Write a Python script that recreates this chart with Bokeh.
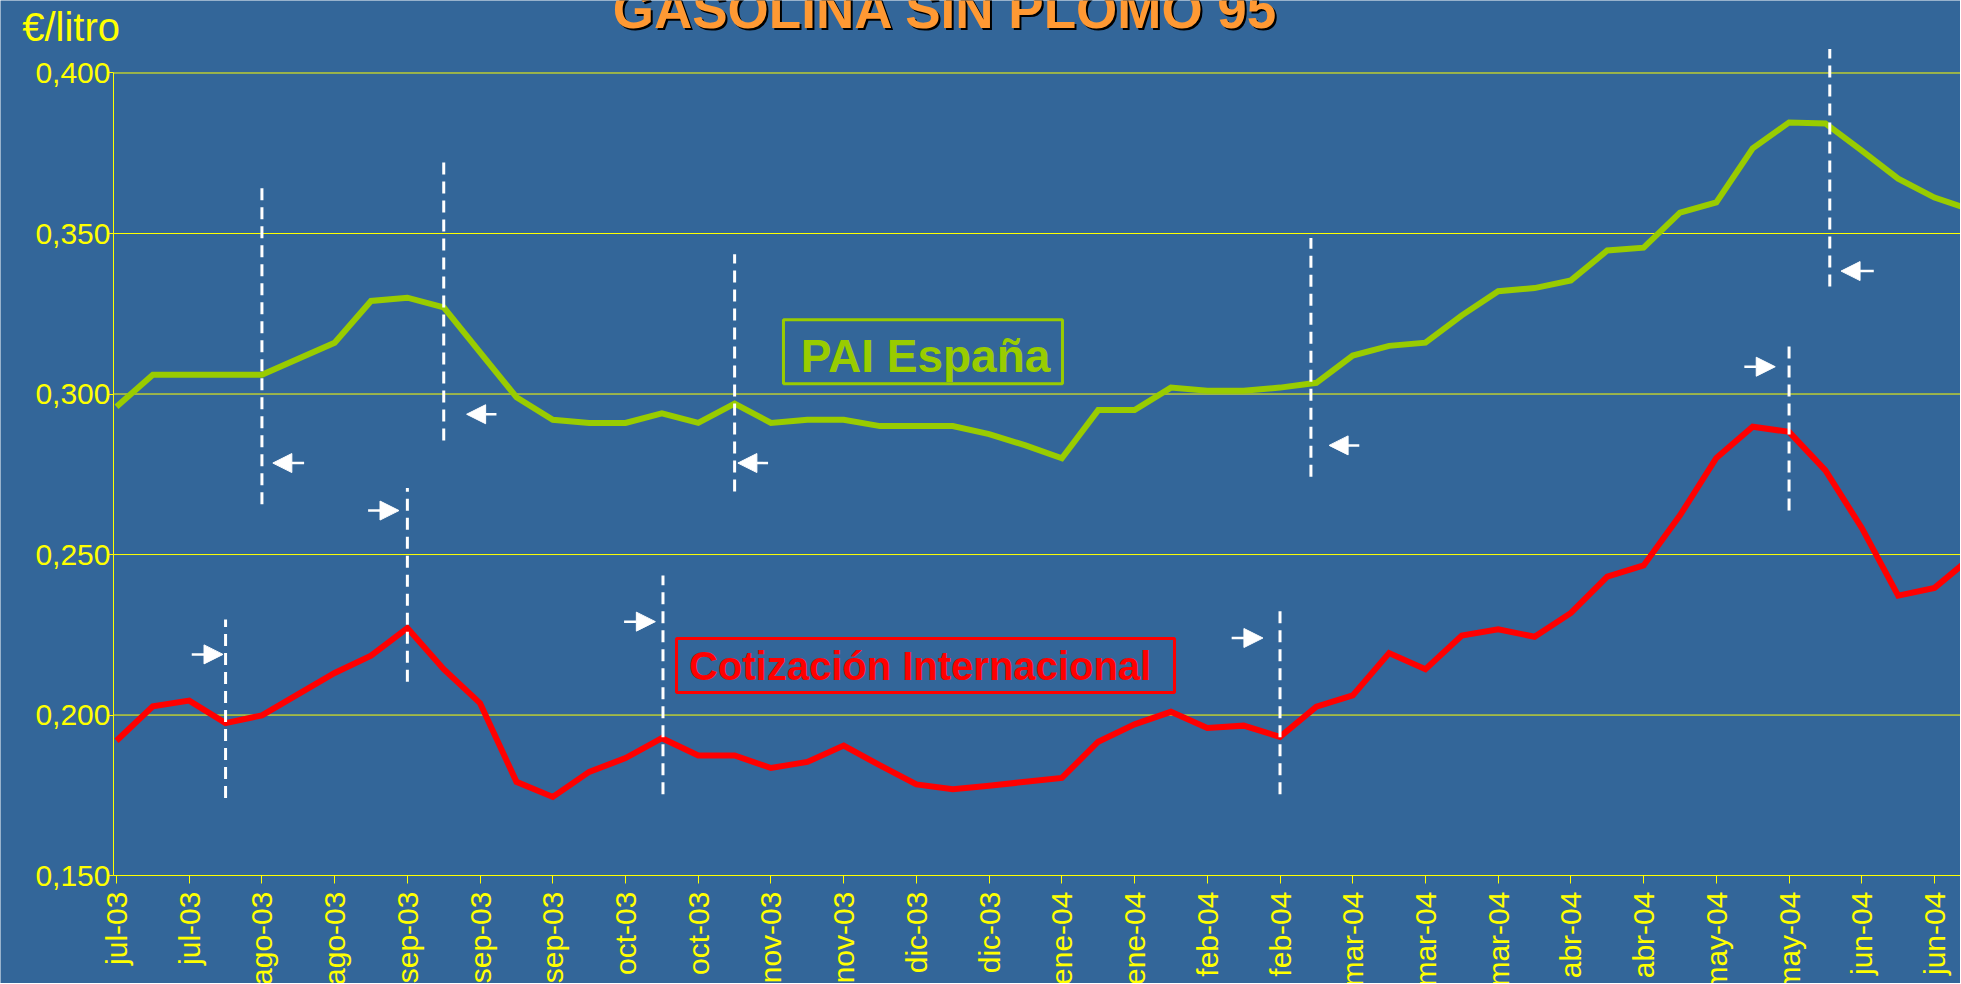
from bokeh.plotting import figure
from bokeh.models import FixedTicker, Arrow, NormalHead, Label, Range1d
from bokeh.core.properties import value
from bokeh.embed import file_html
from bokeh.resources import INLINE

# ---------------- data ----------------
x_tick_labels = ["jul-03", "jul-03", "ago-03", "ago-03", "sep-03", "sep-03", "sep-03",
                 "oct-03", "oct-03", "nov-03", "nov-03", "dic-03", "dic-03", "ene-04",
                 "ene-04", "feb-04", "feb-04", "mar-04", "mar-04", "mar-04", "abr-04",
                 "abr-04", "may-04", "may-04", "jun-04", "jun-04"]

# weekly values, euro / litre
pai_espana = [0.296, 0.306, 0.306, 0.306, 0.306, 0.311, 0.316, 0.329, 0.330, 0.327,
              0.313, 0.299, 0.292, 0.291, 0.291, 0.294, 0.291, 0.297, 0.291, 0.292,
              0.292, 0.290, 0.290, 0.290, 0.2875, 0.284, 0.280, 0.295, 0.295, 0.302,
              0.301, 0.301, 0.302, 0.3035, 0.312, 0.315, 0.316, 0.3245, 0.332, 0.333,
              0.3354, 0.3447, 0.3456, 0.3565, 0.3597, 0.3765, 0.3846, 0.3843, 0.3758,
              0.3671, 0.3612, 0.3574]

cotizacion_internacional = [0.192, 0.2027, 0.2045, 0.1975, 0.1999, 0.2065, 0.2131, 0.2185,
                            0.2271, 0.2143, 0.2037, 0.1792, 0.1745, 0.1823, 0.1866, 0.1928,
                            0.1874, 0.1874, 0.1835, 0.1854, 0.1905, 0.1843, 0.1784, 0.1769,
                            0.1780, 0.1792, 0.1804, 0.1917, 0.1971, 0.2010, 0.1960, 0.1967,
                            0.1932, 0.2026, 0.2061, 0.2193, 0.2143, 0.2248, 0.2267, 0.2244,
                            0.2318, 0.2431, 0.2466, 0.2622, 0.2801, 0.2898, 0.2882, 0.2762,
                            0.2583, 0.2372, 0.2396, 0.249]

weeks = list(range(len(pai_espana)))

y_ticks = [0.150, 0.200, 0.250, 0.300, 0.350, 0.400]
y_tick_labels = ["0,150", "0,200", "0,250", "0,300", "0,350", "0,400"]

# vertical dashed marker lines (week position, bottom, top) and short arrows (tail, head, level)
pai_marks_x = [4.0, 9.0, 17.0, 32.85, 47.12]
pai_marks_y0 = [0.2657, 0.2855, 0.2696, 0.2742, 0.3335]
pai_marks_y1 = [0.3642, 0.3735, 0.3435, 0.3486, 0.4075]
pai_arrow_tail = [5.16, 10.45, 17.92, 34.18, 48.33]
pai_arrow_head = [4.30, 9.63, 17.09, 33.35, 47.43]
pai_arrow_y = [0.2785, 0.2937, 0.2785, 0.2840, 0.3383]

cot_marks_x = [3.0, 8.0, 15.03, 32.0, 46.0]
cot_marks_y0 = [0.1742, 0.2104, 0.1753, 0.1753, 0.2637]
cot_marks_y1 = [0.2298, 0.2707, 0.2435, 0.2345, 0.3167]
cot_arrow_tail = [2.07, 6.92, 13.96, 30.67, 44.77]
cot_arrow_head = [2.93, 7.77, 14.82, 31.53, 45.62]
cot_arrow_y = [0.2189, 0.2637, 0.2291, 0.2240, 0.3085]

# ---------------- style ----------------
BG = "#336699"
YELLOW = "#FFFF00"
GREEN = "#99CC00"
RED = "#FF0000"
FONT = "Liberation Sans"

X_START, X_END = -3.190, 50.715      # frame covers the whole canvas
Y_START, Y_END = 0.11638, 0.42258
AXIS_X = -0.0825                     # where the value axis stands
AXIS_Y = y_ticks[0]                  # where the time axis stands

p = figure(width=1960, height=983, output_backend="svg", toolbar_location=None,
           x_range=Range1d(X_START, X_END), y_range=Range1d(Y_START, Y_END),
           min_border_left=0, min_border_top=0, min_border_right=0, min_border_bottom=0)
p.background_fill_color = BG
p.border_fill_color = BG
p.outline_line_color = None
p.xgrid.grid_line_color = None
p.ygrid.grid_line_color = None

# horizontal grid lines, starting at the value axis
p.segment(x0=[AXIS_X] * (len(y_ticks) - 1), y0=y_ticks[1:], x1=[X_END] * (len(y_ticks) - 1),
          y1=y_ticks[1:], line_color=YELLOW, line_width=1)

# y axis
p.yaxis.fixed_location = AXIS_X
p.yaxis.bounds = (y_ticks[0], y_ticks[-1])
p.yaxis.ticker = FixedTicker(ticks=y_ticks)
p.yaxis.major_label_overrides = {t: l for t, l in zip(y_ticks, y_tick_labels)}
p.yaxis.axis_line_color = YELLOW
p.yaxis.major_tick_line_color = YELLOW
p.yaxis.major_tick_in = 0
p.yaxis.major_tick_out = 5
p.yaxis.minor_tick_line_color = None
p.yaxis.major_label_standoff = -2
p.yaxis.major_label_text_color = YELLOW
p.yaxis.major_label_text_font = FONT
p.yaxis.major_label_text_font_size = "30px"

# x axis
x_tick_pos = [2 * i for i in range(len(x_tick_labels))]
p.xaxis.fixed_location = AXIS_Y
p.xaxis.bounds = (AXIS_X, X_END)
p.xaxis.ticker = FixedTicker(ticks=x_tick_pos)
p.xaxis.major_label_overrides = {t: l for t, l in zip(x_tick_pos, x_tick_labels)}
p.xaxis.major_label_orientation = 1.5707963
p.xaxis.axis_line_color = YELLOW
p.xaxis.major_tick_line_color = YELLOW
p.xaxis.major_tick_in = 0
p.xaxis.major_tick_out = 8
p.xaxis.minor_tick_line_color = None
p.xaxis.major_label_standoff = 8
p.xaxis.major_label_text_color = YELLOW
p.xaxis.major_label_text_font = FONT
p.xaxis.major_label_text_font_size = "30px"

# series
p.line(weeks, pai_espana, line_color=GREEN, line_width=6, line_join="miter")
p.line(weeks, cotizacion_internacional, line_color=RED, line_width=6, line_join="miter")

# dashed markers and arrows
for xs, y0s, y1s, tails, heads, ays in [
    (pai_marks_x, pai_marks_y0, pai_marks_y1, pai_arrow_tail, pai_arrow_head, pai_arrow_y),
    (cot_marks_x, cot_marks_y0, cot_marks_y1, cot_arrow_tail, cot_arrow_head, cot_arrow_y),
]:
    for xm, y0, y1, xt, xh, ay in zip(xs, y0s, y1s, tails, heads, ays):
        p.add_layout(Arrow(end=None, x_start=xm, y_start=y0, x_end=xm, y_end=y1,
                           line_color="white", line_width=3, line_dash="12 7"))
        p.add_layout(Arrow(end=NormalHead(size=19, fill_color="white", line_color="white", line_width=1),
                           x_start=xt, y_start=ay, x_end=xh, y_end=ay,
                           line_color="white", line_width=2.5))

# series name boxes
p.rect(x=[22.18], y=[0.3132], width=279, height=64, width_units="screen", height_units="screen",
       fill_color=None, line_color=GREEN, line_width=3)
p.text(x=[22.25], y=[0.3071], text=["PAI España"], text_color=GREEN, text_align="center",
       text_baseline="alphabetic", text_font=value(FONT), text_font_style="bold",
       text_font_size="46px", y_offset=-15)

p.rect(x=[22.25], y=[0.2154], width=498, height=54, width_units="screen", height_units="screen",
       fill_color=None, line_color=RED, line_width=3)
p.text(x=[22.1], y=[0.2113], text=["Cotización Internacional"], text_color=RED, text_align="center",
       text_baseline="alphabetic", text_font=value(FONT), text_font_style="bold",
       text_font_size="40px", y_offset=-13)

# unit label and title (title partly above the page, as in the original)
p.add_layout(Label(x=-2.594, y=0.41012, text="€/litro", text_color=YELLOW, text_font=FONT,
                   text_font_size="40px", text_baseline="alphabetic", y_offset=14))
p.add_layout(Label(x=22.8, y=0.41386, text="GASOLINA SIN PLOMO 95", text_color="black",
                   text_font=FONT, text_font_style="bold", text_font_size="53px",
                   text_align="center", text_baseline="alphabetic", x_offset=2, y_offset=17))
p.add_layout(Label(x=22.8, y=0.41386, text="GASOLINA SIN PLOMO 95", text_color="#FF9933",
                   text_font=FONT, text_font_style="bold", text_font_size="53px",
                   text_align="center", text_baseline="alphabetic", y_offset=19))

open("out.html", "w").write(file_html(p, INLINE))
